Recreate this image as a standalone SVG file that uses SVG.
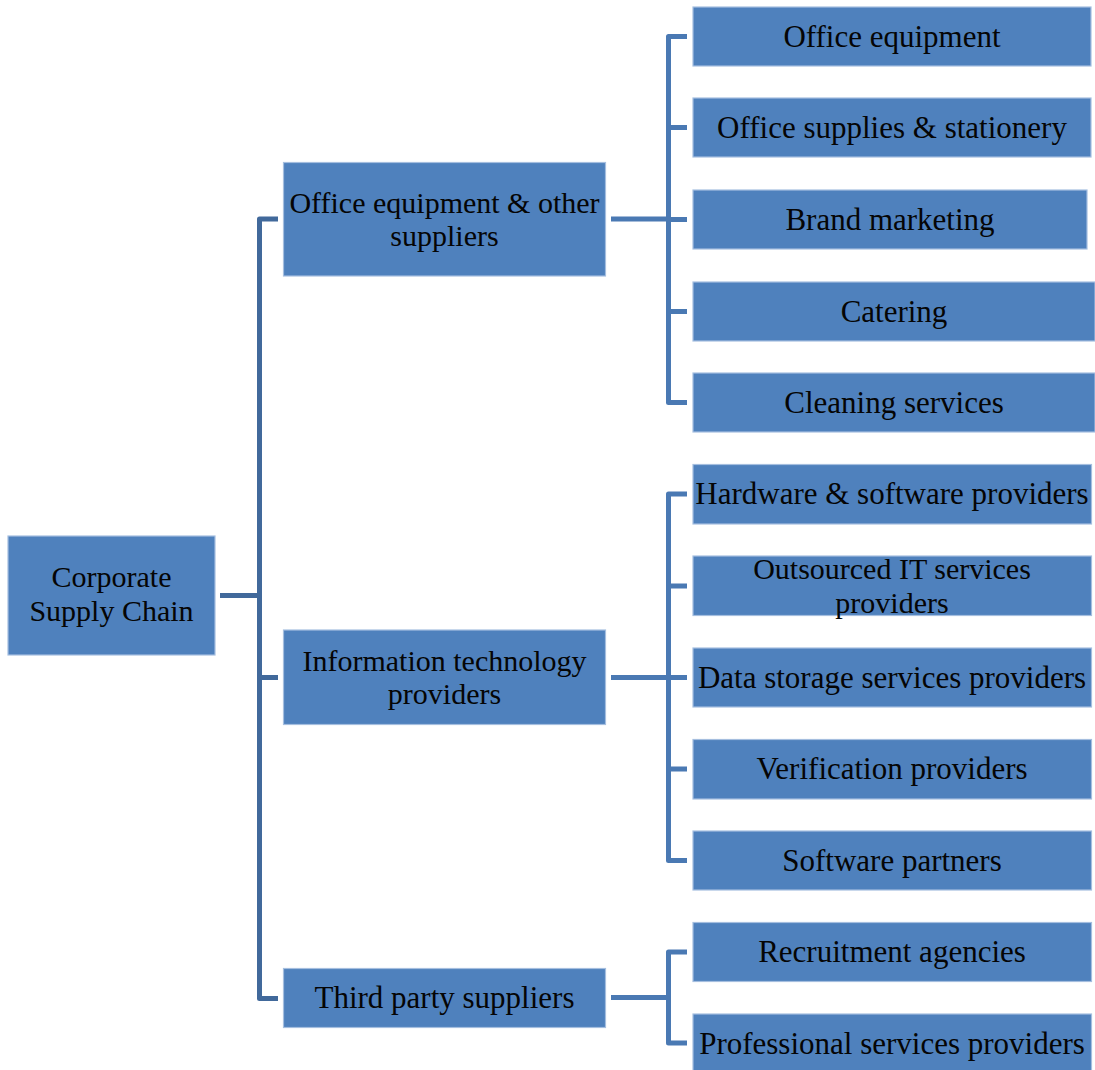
<svg xmlns="http://www.w3.org/2000/svg" width="1095" height="1070" viewBox="0 0 1095 1070">
<style>
.box{fill:#4F81BD;stroke:#A5BEDF;stroke-width:1.2}
.t{font-family:"Liberation Serif","Times New Roman",serif;font-size:31px;fill:#050505;text-anchor:middle}
.t2{font-size:30px}
.trunk{fill:none;stroke:#41699B;stroke-width:5;stroke-linejoin:round}
.br{fill:none;stroke:#4A79B3;stroke-width:5;stroke-linejoin:round}
</style>
<rect width="1095" height="1070" fill="#FFFFFF"/>
<g id="connectors">
<path class="trunk" d="M220 595.5H259.5M278 219H259.5V998.5H278M259.5 677.5H278"/>
<path class="br" d="M611 219H668.5M687 36.5H668.5V402.5H687M668.5 127.5H687M668.5 219.5H687M668.5 311.5H687"/>
<path class="br" d="M611 677.5H668.5M687 494H668.5V860.5H687M668.5 586H687M668.5 677.5H687M668.5 769H687"/>
<path class="br" d="M611 997.5H668.5M687 952H668.5V1043H687"/>
</g>
<g id="root"><rect class="box" x="8" y="536" width="207" height="119"/><text class="t t2" x="111.5" y="587">Corporate<tspan x="111.5" dy="33.5">Supply Chain</tspan></text></g>
<g id="office"><rect class="box" x="283.5" y="162.5" width="322" height="113.5"/><text class="t t2" x="444.5" y="212.5">Office equipment &amp; other<tspan x="444.5" dy="33.5">suppliers</tspan></text></g>
<g id="it"><rect class="box" x="283.5" y="630" width="322" height="94.5"/><text class="t t2" x="444.5" y="670.5">Information technology<tspan x="444.5" dy="33.5">providers</tspan></text></g>
<g id="third"><rect class="box" x="283.5" y="968.5" width="322" height="59"/><text class="t" x="444.5" y="1008">Third party suppliers</text></g>
<g id="leaf-office-equipment"><rect class="box" x="693" y="7" width="398" height="59"/><text class="t" x="892" y="47">Office equipment</text></g>
<g id="leaf-office-supplies"><rect class="box" x="693" y="98" width="398" height="59"/><text class="t" x="892" y="138">Office supplies &amp; stationery</text></g>
<g id="leaf-brand"><rect class="box" x="693" y="190" width="394" height="59"/><text class="t" x="890" y="230">Brand marketing</text></g>
<g id="leaf-catering"><rect class="box" x="693" y="282" width="402" height="59"/><text class="t" x="894" y="322">Catering</text></g>
<g id="leaf-cleaning"><rect class="box" x="693" y="373" width="402" height="59"/><text class="t" x="894" y="413">Cleaning services</text></g>
<g id="leaf-hardware"><rect class="box" x="693" y="464.5" width="398.5" height="59.5"/><text class="t" x="892" y="504">Hardware &amp; software providers</text></g>
<g id="leaf-outsourced"><rect class="box" x="693" y="556" width="398.5" height="59.5"/><text class="t t2" x="892" y="579">Outsourced IT services<tspan x="892" dy="33.5">providers</tspan></text></g>
<g id="leaf-data"><rect class="box" x="693" y="648" width="398.5" height="59"/><text class="t" x="892" y="688">Data storage services providers</text></g>
<g id="leaf-verification"><rect class="box" x="693" y="739.5" width="398.5" height="59.5"/><text class="t" x="892" y="779">Verification providers</text></g>
<g id="leaf-software"><rect class="box" x="693" y="831" width="398.5" height="59"/><text class="t" x="892" y="871">Software partners</text></g>
<g id="leaf-recruitment"><rect class="box" x="693" y="922.5" width="398.5" height="59"/><text class="t" x="892" y="962">Recruitment agencies</text></g>
<g id="leaf-professional"><rect class="box" x="693" y="1014" width="398.5" height="59"/><text class="t" x="892" y="1054">Professional services providers</text></g>
</svg>
